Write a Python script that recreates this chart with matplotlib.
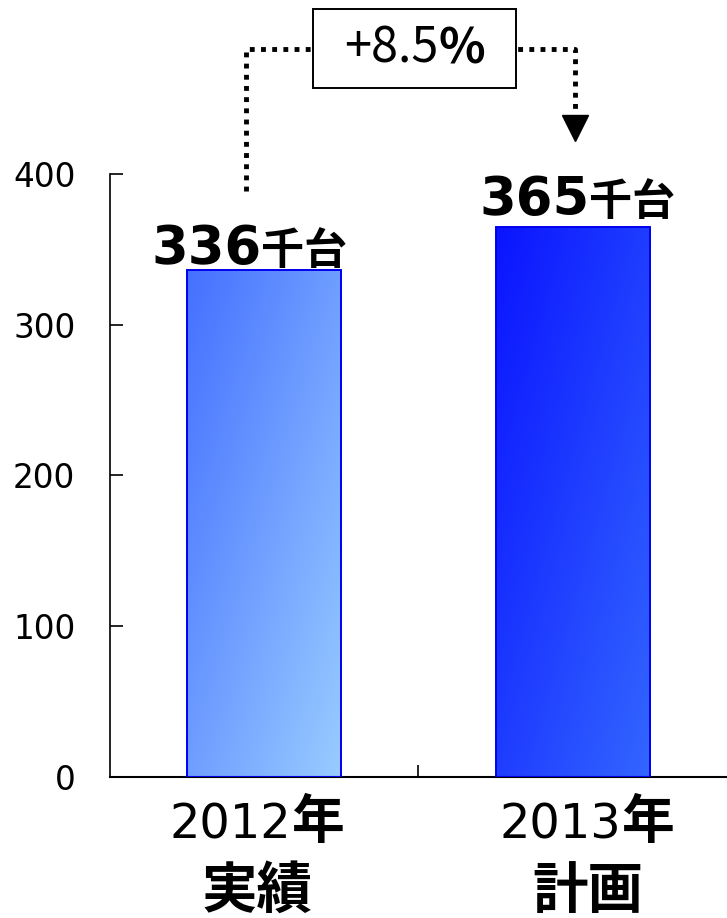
import numpy as np
import matplotlib
matplotlib.use('Agg')
import matplotlib.pyplot as plt
from matplotlib.colors import LinearSegmentedColormap
from matplotlib.offsetbox import TextArea, HPacker, DrawingArea, AnnotationBbox

# Data
YEARS = ['2012', '2013']
LABEL_LINE2 = ['実績', '計画']
VALUES = [336, 365]
UNIT = '千台'
GROWTH = '+8.5'
YTICKS = [0, 100, 200, 300, 400]

# Styling
JP = 'Noto Sans CJK JP'
EDGE_COLOR = '#0000ee'
GRADIENTS = [('#4470ff', '#99ccff'), ('#0a14ff', '#3366ff')]

fig = plt.figure(figsize=(7.27, 9.18), dpi=100)
ax = fig.add_axes([0.1513, 0.1536, 0.8487, 0.6569])

x = np.arange(len(VALUES)) + 0.5
bars = ax.bar(x, VALUES, width=0.5, facecolor='none', edgecolor=EDGE_COLOR,
              linewidth=1.4, zorder=3)

# diagonal gradient fill (dark top-left -> light bottom-right), clipped to each bar
u, v = np.meshgrid(np.linspace(0, 1, 200), np.linspace(0, 1, 200))
grad = (u + v) / 2
for bar, (c0, c1) in zip(bars, GRADIENTS):
    cmap = LinearSegmentedColormap.from_list('g', [c0, c1])
    x0, w, h = bar.get_x(), bar.get_width(), bar.get_height()
    im = ax.imshow(grad, cmap=cmap, extent=[x0, x0 + w, 0, h], origin='upper',
                   aspect='auto', zorder=2, vmin=0, vmax=1)
    im.set_clip_path(bar)

ax.set_xlim(0, 2)
ax.set_ylim(0, 400)

for side in ['top', 'right']:
    ax.spines[side].set_visible(False)
ax.spines['left'].set_linewidth(1.2)
ax.spines['bottom'].set_linewidth(1.5)

ax.set_yticks(YTICKS)
ax.set_yticklabels([str(t) for t in YTICKS], fontsize=23.5, family='DejaVu Sans')
ax.tick_params(axis='y', direction='in', length=9.4, width=1.2, pad=25)
ax.set_xticks([1.0])
ax.set_xticklabels([''])
ax.tick_params(axis='x', direction='in', length=9, width=1.2)

# category labels: "2012" regular + "年" bold, second line bold
cat_dx = [0, 16]
for xi, yr, l2, dx in zip(x, YEARS, LABEL_LINE2, cat_dx):
    ax.annotate(yr, (xi, 0), xytext=(19 + dx, -44), textcoords='offset points',
                ha='right', va='baseline', fontsize=34.5, family='DejaVu Sans',
                annotation_clip=False)
    ax.annotate('年', (xi, 0), xytext=(19 + dx, -44), textcoords='offset points',
                ha='left', va='baseline', fontsize=38, family=JP, weight='bold',
                annotation_clip=False)
    ax.annotate(l2, (xi, 0), xytext=(-5 + dx, -94), textcoords='offset points',
                ha='center', va='baseline', fontsize=40, family=JP, weight='bold',
                annotation_clip=False)

# value labels above bars (number big, unit smaller)
label_dx = [-2, 12]
label_dy = [5, 8.6]
for xi, val, dx, dy in zip(x, VALUES, label_dx, label_dy):
    ax.annotate(str(val), (xi, val), xytext=(dx, dy), textcoords='offset points',
                ha='right', va='baseline', fontsize=38, family='DejaVu Sans',
                weight='bold', annotation_clip=False)
    ax.annotate(UNIT, (xi, val), xytext=(dx, dy), textcoords='offset points',
                ha='left', va='baseline', fontsize=31, family=JP, weight='bold',
                annotation_clip=False)

# growth bracket
bracket_y = 483
left_x, right_x = x[0] - 0.06, x[1] + 0.006
start_y = VALUES[0] + 53
tip_y = VALUES[1] + 57.5
head_h = 16.6
dot_kw = dict(color='black', linewidth=3.5, linestyle=(0, (1, 1.3)),
              dash_capstyle='butt', clip_on=False, zorder=4)
ax.plot([left_x, left_x, right_x, right_x],
        [start_y, bracket_y, bracket_y, tip_y + head_h], **dot_kw)
ax.plot([right_x], [tip_y + head_h / 2], marker='v', markersize=19,
        color='black', clip_on=False, zorder=5)

growth = HPacker(children=[
    DrawingArea(12, 1),
    TextArea(GROWTH, textprops=dict(family=JP, fontsize=35)),
    TextArea('%', textprops=dict(family=JP, fontsize=35, weight='bold')),
    DrawingArea(12, 1),
], align='center', sep=0, pad=10.5)
ab = AnnotationBbox(growth, ((left_x + right_x) / 2, bracket_y), xycoords='data',
                    xybox=(3, 0), boxcoords='offset points',
                    box_alignment=(0.5, 0.5), frameon=True, pad=0,
                    bboxprops=dict(edgecolor='black', facecolor='white', linewidth=1.4),
                    annotation_clip=False, zorder=6)
ax.add_artist(ab)

fig.savefig('out.png', dpi=100, facecolor='white')
